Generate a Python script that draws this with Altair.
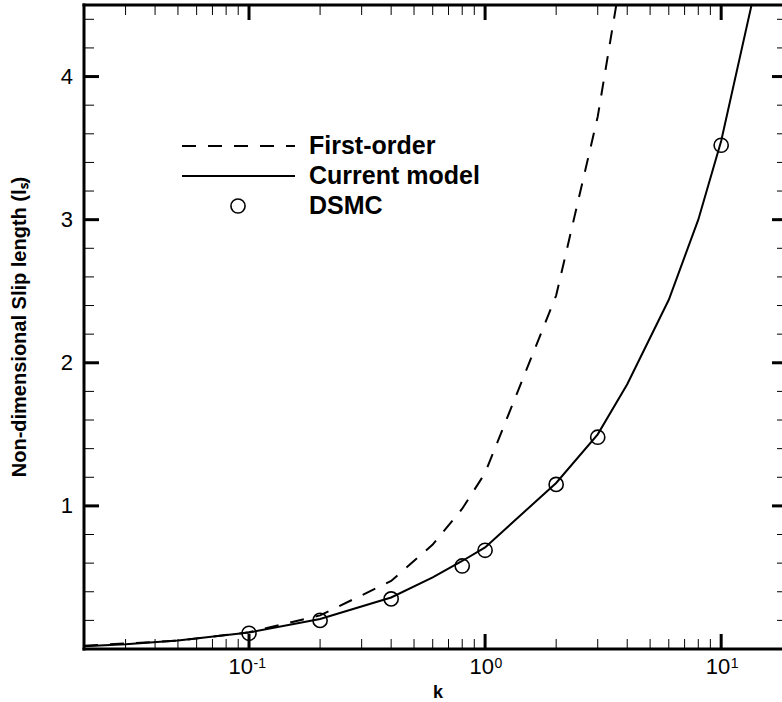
import altair as alt
import pandas as pd

# ---- data ----
k_model = [0.02, 0.03, 0.05, 0.1, 0.2, 0.4, 0.6, 0.8, 1, 2, 3, 4, 6, 8, 10, 15]
ls_model = [0.02, 0.033, 0.06, 0.115, 0.21, 0.36, 0.50, 0.615, 0.71, 1.16, 1.50, 1.85, 2.44, 3.0, 3.55, 4.85]

k_first = [0.02, 0.05, 0.1, 0.2, 0.4, 0.6, 0.8, 1, 2, 3, 4]
ls_first = [0.023, 0.058, 0.117, 0.235, 0.475, 0.73, 0.98, 1.23, 2.47, 3.72, 4.96]

k_dsmc = [0.1, 0.2, 0.4, 0.8, 1, 2, 3, 10]
ls_dsmc = [0.11, 0.20, 0.35, 0.58, 0.69, 1.15, 1.48, 3.52]

x_major = [0.1, 1, 10]
x_exp = ["-1", "0", "1"]
x_minor = [0.03, 0.04, 0.05, 0.06, 0.07, 0.08, 0.09,
           0.2, 0.3, 0.4, 0.5, 0.6, 0.7, 0.8, 0.9,
           2, 3, 4, 5, 6, 7, 8, 9]
y_major = [1, 2, 3, 4]
y_labels = ["1", "2", "3", "4"]
y_minor = [0.2, 0.4, 0.6, 0.8, 1.2, 1.4, 1.6, 1.8, 2.2, 2.4, 2.6, 2.8,
           3.2, 3.4, 3.6, 3.8, 4.2, 4.4]

legend_labels = ["First-order", "Current model", "DSMC"]
x_title = "k"
y_title = "Non-dimensional Slip length (lₛ)"

W, H = 698, 644
FONT = "Liberation Sans"

xs = alt.Scale(type="log", domain=[0.02, 18.1], nice=False)
ys = alt.Scale(domain=[0, 4.5], nice=False, zero=False)

df_model = pd.DataFrame({"k": k_model, "ls": ls_model})
df_first = pd.DataFrame({"k": k_first, "ls": ls_first})
df_dsmc = pd.DataFrame({"k": k_dsmc, "ls": ls_dsmc})
one = pd.DataFrame({"a": [0]})

model = alt.Chart(df_model).mark_line(color="black", strokeWidth=2, clip=True).encode(
    x=alt.X("k:Q", scale=xs, axis=None),
    y=alt.Y("ls:Q", scale=ys, axis=None),
)

first = alt.Chart(df_first).mark_line(color="black", strokeWidth=2, strokeDash=[14, 12], clip=True).encode(
    x=alt.X("k:Q", scale=xs, axis=None),
    y=alt.Y("ls:Q", scale=ys, axis=None),
)

dsmc = alt.Chart(df_dsmc).mark_point(shape="circle", filled=False, size=200, color="black",
                                     strokeWidth=1.6, opacity=1, clip=True).encode(
    x=alt.X("k:Q", scale=xs, axis=None),
    y=alt.Y("ls:Q", scale=ys, axis=None),
)

df_xmaj = pd.DataFrame({"v": x_major, "e": x_exp})
df_xmin = pd.DataFrame({"v": x_minor})
df_ymaj = pd.DataFrame({"v": y_major, "t": y_labels})
df_ymin = pd.DataFrame({"v": y_minor})

def xticks(df, length, width, bottom=True):
    y0 = H if bottom else 0
    y1 = H - length if bottom else length
    return alt.Chart(df).mark_rule(color="black", strokeWidth=width).encode(
        x=alt.X("v:Q", scale=xs, axis=None), y=alt.value(y0), y2=alt.value(y1))

def yticks(df, x0, x1, width):
    return alt.Chart(df).mark_rule(color="black", strokeWidth=width).encode(
        y=alt.Y("v:Q", scale=ys, axis=None), x=alt.value(x0), x2=alt.value(x1))

ticks = [
    xticks(df_xmaj, 15, 3, True), xticks(df_xmin, 10, 1, True),
    xticks(df_xmaj, 15, 3, False), xticks(df_xmin, 10, 1, False),
    yticks(df_ymaj, 0, 15, 3), yticks(df_ymin, 0, 10, 1),
    yticks(df_ymaj, W - 10, W, 3), yticks(df_ymin, W - 5, W, 1),
]

frame = [
    alt.Chart(one).mark_rule(color="black", strokeWidth=3, strokeCap="square").encode(
        x=alt.value(0), x2=alt.value(W), y=alt.value(0)),
    alt.Chart(one).mark_rule(color="black", strokeWidth=3, strokeCap="square").encode(
        x=alt.value(0), x2=alt.value(W), y=alt.value(H)),
    alt.Chart(one).mark_rule(color="black", strokeWidth=3, strokeCap="square").encode(
        x=alt.value(0), y=alt.value(0), y2=alt.value(H)),
]

# y tick labels
ylab = alt.Chart(df_ymaj).mark_text(align="right", baseline="middle", font=FONT, fontSize=22,
                                    color="black").encode(
    y=alt.Y("v:Q", scale=ys, axis=None), x=alt.value(-11), text="t:N")

# x tick labels 10^n with superscripts
label_layers = []
offsets = [4, 9, 9]
for i in range(len(x_major)):
    d = df_xmaj.iloc[[i]]
    base = alt.Chart(d).mark_text(align="right", baseline="top", font=FONT, fontSize=22,
                                  color="black", dx=offsets[i], text="10").encode(
        x=alt.X("v:Q", scale=xs, axis=None), y=alt.value(H + 8))
    sup = alt.Chart(d).mark_text(align="left", baseline="top", font=FONT, fontSize=14,
                                 color="black", dx=offsets[i] + 0.5).encode(
        x=alt.X("v:Q", scale=xs, axis=None), y=alt.value(H + 8), text="e:N")
    label_layers += [base, sup]

titles = [
    alt.Chart(one).mark_text(align="center", baseline="alphabetic", font=FONT, fontSize=18,
                             fontWeight="bold", color="black", text=x_title).encode(
        x=alt.value(354), y=alt.value(H + 49)),
    alt.Chart(one).mark_text(align="center", baseline="middle", font=FONT, fontSize=20,
                             fontWeight="bold", color="black", angle=270, text=y_title).encode(
        x=alt.value(-64), y=alt.value(H / 2)),
]

# legend
leg_y = [141, 171, 201]
leg_dash = alt.Chart(one).mark_rule(color="black", strokeWidth=2, strokeDash=[14, 12]).encode(
    x=alt.value(98), x2=alt.value(211), y=alt.value(leg_y[0]))
leg_solid = alt.Chart(one).mark_rule(color="black", strokeWidth=2).encode(
    x=alt.value(98), x2=alt.value(211), y=alt.value(leg_y[1]))
leg_circle = alt.Chart(one).mark_point(shape="circle", filled=False, size=200, color="black",
                                       strokeWidth=1.6, opacity=1).encode(
    x=alt.value(154), y=alt.value(leg_y[2]))
leg_text = [
    alt.Chart(one).mark_text(align="left", baseline="middle", font=FONT, fontSize=25,
                             fontWeight="bold", color="black", text=legend_labels[i]).encode(
        x=alt.value(225), y=alt.value(leg_y[i]))
    for i in range(3)
]

chart = alt.layer(
    model, first, dsmc, *ticks, *frame, ylab, *label_layers, *titles,
    leg_dash, leg_solid, leg_circle, *leg_text
).properties(
    width=W, height=H,
    autosize=alt.AutoSizeParams(type="none"),
    padding={"left": 84, "top": 5, "right": 0, "bottom": 53},
).configure_view(stroke=None).configure(background="white")

chart.save("out.html", embed_options={"renderer": "svg", "actions": False})
